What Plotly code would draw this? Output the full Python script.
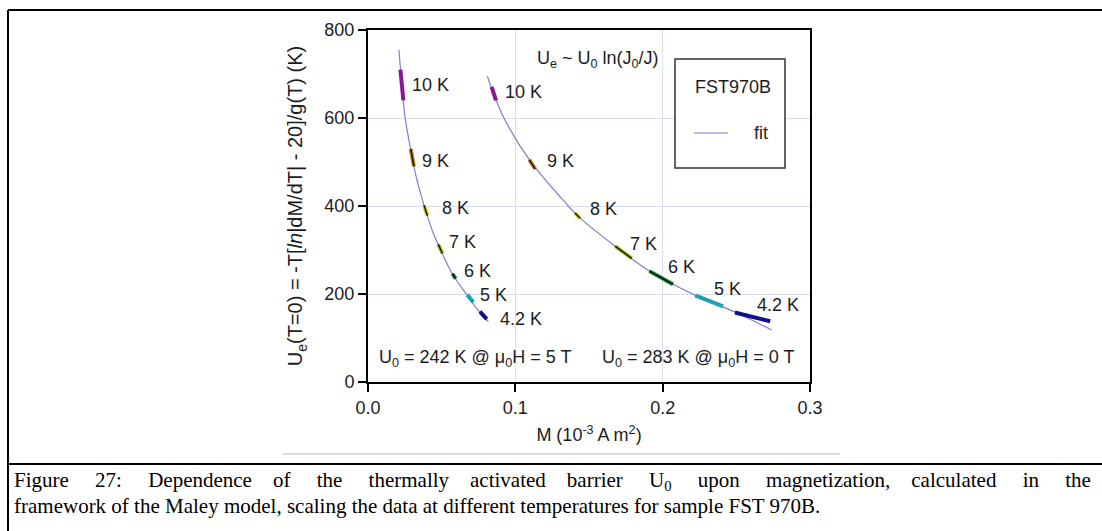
import plotly.graph_objects as go

# ---- data -------------------------------------------------------------
# fit curves U_e(M) for the two fields (M in 1e-3 A m^2, U in K)
fit_5T_M = [0.0210, 0.0222, 0.0236, 0.0251, 0.0272, 0.0295, 0.0330, 0.0380,
            0.0440, 0.0500, 0.0573, 0.0660, 0.0740, 0.0817]
fit_5T_U = [755, 705, 650, 603, 560, 520, 462, 402, 341, 295, 246, 203, 166, 137]

fit_0T_M = [0.0810, 0.0923, 0.1100, 0.1360, 0.1425, 0.1680, 0.1920, 0.2210,
            0.2490, 0.2740]
fit_0T_U = [695, 600, 503, 400, 377, 308, 250, 199, 159, 118]

temperatures = ["10 K", "9 K", "8 K", "7 K", "6 K", "5 K", "4.2 K"]
seg_colors = ["#8a1596", "#c98a1e", "#e2d21e", "#a6d223", "#1d8a44", "#21a2b4", "#10108c"]
seg_black = [False, True, True, True, True, False, False]

# scaled data segments: (M_start, M_end), (U_start, U_end)
seg_5T_M = [(0.0220, 0.0240), (0.0290, 0.0312), (0.0380, 0.0403), (0.0477, 0.0505),
            (0.0573, 0.0595), (0.0674, 0.0715), (0.0760, 0.0806)]
seg_5T_U = [(710, 640), (530, 490), (402, 378), (313, 292), (246, 235), (198, 181), (160, 143)]
seg_0T_M = [(0.0839, 0.0869), (0.1095, 0.1135), (0.1405, 0.1440), (0.1677, 0.1790),
            (0.1910, 0.2070), (0.2220, 0.2410), (0.2490, 0.2730)]
seg_0T_U = [(671, 640), (505, 484), (384, 372), (309, 281), (252, 222), (197, 172), (158, 138)]

# label anchor positions for the temperature tags
lab_5T_M = [0.0285, 0.0353, 0.0489, 0.0536, 0.0638, 0.0747, 0.0882]
lab_5T_U = [675, 502, 395, 318, 252, 198, 143]
lab_0T_M = [0.0916, 0.1201, 0.1493, 0.1765, 0.2023, 0.2335, 0.2627]
lab_0T_U = [659, 502, 393, 314, 261, 211, 175]

x_ticks = [0.0, 0.1, 0.2, 0.3]
y_ticks = [0, 200, 400, 600, 800]

caption_line1 = ["Figure", "27:", "Dependence", "of", "the", "thermally", "activated",
                 "barrier", "U<sub>0</sub>", "upon", "magnetization,", "calculated", "in", "the"]
caption_line2 = ("framework of the Maley model, scaling the data at different "
                 "temperatures for sample FST 970B.")

W, H = 1102, 531
FIT_COLOR = "#7f7dd0"
SANS = "Liberation Sans, Arial, sans-serif"
SERIF = "Liberation Serif, Times New Roman, serif"
TXT = "#1c1c1c"
FS = 18


def px(x):
    return x / W


def py(y):
    return 1 - y / H


def note(x, y, text, size=FS, xanchor="center", family=SANS, color=TXT):
    fig.add_annotation(x=px(x), y=py(y), xref="paper", yref="paper", text=text,
                       showarrow=False, xanchor=xanchor, yanchor="middle",
                       font=dict(family=family, size=size, color=color))


fig = go.Figure()

for M, U in ((fit_5T_M, fit_5T_U), (fit_0T_M, fit_0T_U)):
    fig.add_trace(go.Scatter(x=M, y=U, mode="lines",
                             line=dict(color=FIT_COLOR, width=1.2, shape="spline", smoothing=1.0),
                             showlegend=False, hoverinfo="skip"))

for segM, segU, labM, labU in ((seg_5T_M, seg_5T_U, lab_5T_M, lab_5T_U),
                               (seg_0T_M, seg_0T_U, lab_0T_M, lab_0T_U)):
    for i, t in enumerate(temperatures):
        fig.add_trace(go.Scatter(x=list(segM[i]), y=list(segU[i]), mode="lines",
                                 line=dict(color=seg_colors[i], width=4),
                                 showlegend=False, name=t))
        if seg_black[i]:
            fig.add_trace(go.Scatter(x=list(segM[i]), y=list(segU[i]), mode="lines",
                                     line=dict(color="#111111", width=1.5),
                                     showlegend=False, hoverinfo="skip"))
        fig.add_annotation(x=labM[i], y=labU[i], xref="x", yref="y", text=t,
                           showarrow=False, xanchor="left", yanchor="middle",
                           font=dict(family=SANS, size=FS, color=TXT))

# text inside the plot
note(598, 60, "U<sub>e</sub> ~ U<sub>0</sub> ln(J<sub>0</sub>/J)")
note(377, 358, "U<sub>0</sub> = 242 K @ μ<sub>0</sub>H = 5 T", xanchor="left")
note(600, 358, "U<sub>0</sub> = 283 K @ μ<sub>0</sub>H = 0 T", xanchor="left")

# legend box
fig.add_shape(type="rect", xref="paper", yref="paper",
              x0=px(675), x1=px(785), y0=py(168), y1=py(59),
              line=dict(color="#333333", width=1.5), fillcolor="white", layer="above")
note(733, 87, "FST970B")
fig.add_shape(type="line", xref="paper", yref="paper",
              x0=px(694), x1=px(728), y0=py(133), y1=py(133),
              line=dict(color="#a9a7e2", width=1.5))
note(761, 133, "fit")

# page frame and caption
fig.add_shape(type="line", xref="paper", yref="paper", x0=px(8), x1=1, y0=py(10), y1=py(10),
              line=dict(color="black", width=2))
fig.add_shape(type="line", xref="paper", yref="paper", x0=px(8), x1=px(8), y0=py(10), y1=0,
              line=dict(color="black", width=2))
fig.add_shape(type="line", xref="paper", yref="paper", x0=px(8), x1=1, y0=py(464), y1=py(464),
              line=dict(color="black", width=2))
fig.add_shape(type="line", xref="paper", yref="paper", x0=px(283), x1=px(840), y0=py(454), y1=py(454),
              line=dict(color="#b5b5b5", width=1))

# justified first caption line: widen the inter-word gaps
NB = "\u00a0"
gaps = [4, 4, 3, 4, 4, 3, 3, 4, 4, 4, 3, 4, 4]
line1 = caption_line1[0]
for word, g in zip(caption_line1[1:], gaps):
    line1 += " " + NB * g + word
note(12, 481, line1, size=21, xanchor="left", family=SERIF, color="black")
note(12, 506, caption_line2, size=21, xanchor="left", family=SERIF, color="black")

axis_common = dict(showline=True, linecolor="black", linewidth=2, mirror=True,
                   ticks="outside", ticklen=8, tickwidth=1.5, tickcolor="black",
                   showgrid=True, gridcolor="#dcdcf4", gridwidth=1, zeroline=False,
                   automargin=False,
                   tickfont=dict(family=SANS, size=FS, color=TXT))

fig.update_layout(
    width=W, height=H, margin=dict(l=0, r=0, t=0, b=0),
    paper_bgcolor="white", plot_bgcolor="white",
    xaxis=dict(range=[0, 0.3], tickvals=x_ticks, tickformat=".1f",
               domain=[px(368), px(810)],
               title=dict(text="M (10<sup>-3</sup> A m<sup>2</sup>)", standoff=12,
                          font=dict(family=SANS, size=FS, color=TXT)),
               **axis_common),
    yaxis=dict(range=[0, 800], tickvals=y_ticks,
               domain=[py(382), py(30)],
               title=dict(text="U<sub>e</sub>(T=0) = -T[<i>ln</i>|dM/dT| - 20]/g(T) (K)",
                          standoff=16, font=dict(family=SANS, size=20, color=TXT)),
               **axis_common),
)

fig.write_html("out.html")
